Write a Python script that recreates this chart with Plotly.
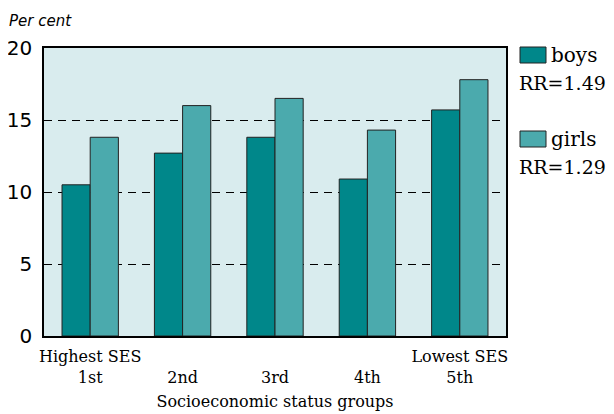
import plotly.graph_objects as go

# data
groups = ["1st", "2nd", "3rd", "4th", "5th"]
tick_text = ["Highest SES<br>1st", " <br>2nd", " <br>3rd", " <br>4th", "Lowest SES<br>5th"]
boys = [10.5, 12.7, 13.8, 10.9, 15.7]
girls = [13.8, 16.0, 16.5, 14.3, 17.8]
rr_boys = "RR=1.49"
rr_girls = "RR=1.29"

boys_color = "#00878A"
girls_color = "#4BAAAD"
bg_color = "#D9ECEE"
serif = "DejaVu Serif"
sans = "DejaVu Sans"

# the page body has an 8px margin, so the figure is drawn 8px in from the window corner
PAGE = 8
W, H = 614 - PAGE, 414 - PAGE
L, R, T, B = 36, 108, 40, 78


def px_x(x):
    # window pixel column -> paper x
    return (x - PAGE - L) / (W - L - R)


def px_y(y):
    # window pixel row -> paper y
    return (H - B - (y - PAGE)) / (H - T - B)


fig = go.Figure()
fig.add_trace(go.Bar(x=groups, y=boys, name="boys", marker=dict(color=boys_color, line=dict(color="#222", width=1))))
fig.add_trace(go.Bar(x=groups, y=girls, name="girls", marker=dict(color=girls_color, line=dict(color="#222", width=1))))

# hand made legend, the swatches are bigger than plotly's own
for (y0, color, label, rr) in [(47, boys_color, "boys", rr_boys), (131, girls_color, "girls", rr_girls)]:
    fig.add_shape(type="rect", xref="paper", yref="paper",
                  x0=px_x(520), x1=px_x(546), y0=px_y(y0), y1=px_y(y0 + 16),
                  fillcolor=color, line=dict(color="#222", width=1))
    fig.add_annotation(x=px_x(549), y=px_y(y0 + 8), xref="paper", yref="paper", text=label,
                       showarrow=False, xanchor="left", yanchor="middle",
                       font=dict(family=serif, size=20, color="black"))
    fig.add_annotation(x=px_x(517), y=px_y(y0 + 36), xref="paper", yref="paper", text=rr,
                       showarrow=False, xanchor="left", yanchor="middle",
                       font=dict(family=serif, size=19, color="black"))

fig.add_annotation(x=px_x(7), y=px_y(21), xref="paper", yref="paper", text="<i>Per cent</i>",
                   showarrow=False, xanchor="left", yanchor="middle",
                   font=dict(family=sans, size=15, color="black"))

fig.update_layout(
    width=W, height=H,
    margin=dict(l=L, r=R, t=T, b=B),
    paper_bgcolor="white",
    plot_bgcolor=bg_color,
    barmode="group",
    bargap=0.39,
    bargroupgap=0,
    showlegend=False,
    xaxis=dict(
        tickmode="array", tickvals=groups, ticktext=tick_text,
        tickfont=dict(family=serif, size=16, color="black"),
        showline=True, linecolor="black", linewidth=1.5, mirror=True,
        showgrid=False, ticks="", automargin=False, ticklabelstandoff=5,
        title=dict(text="Socioeconomic status groups", font=dict(family=serif, size=16, color="black"), standoff=10),
    ),
    yaxis=dict(
        range=[0, 20], tickvals=[0, 5, 10, 15, 20],
        tickfont=dict(family=sans, size=20, color="black"),
        showline=True, linecolor="black", linewidth=1.5, mirror=True,
        showgrid=True, gridcolor="black", gridwidth=1, griddash="8px,6px",
        zeroline=False, ticks="", ticklabelstandoff=6, automargin=False,
    ),
)

fig.write_html("out.html")
